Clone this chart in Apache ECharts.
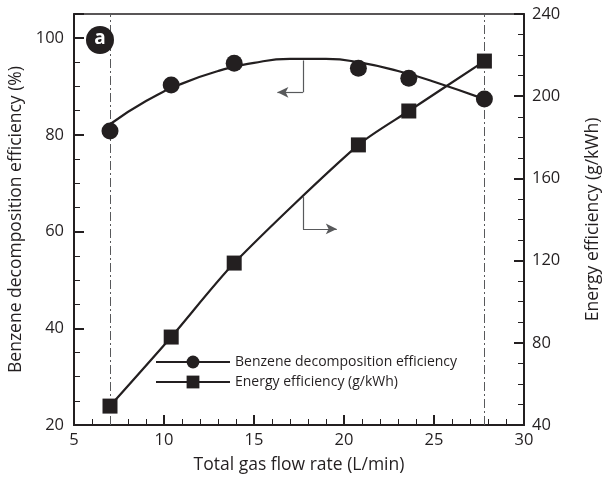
<!DOCTYPE html>
<html>
<head>
<meta charset="utf-8">
<script src="https://cdn.jsdelivr.net/npm/echarts@6/dist/echarts.min.js"></script>
<style>
  html, body { margin: 0; padding: 0; background: #fff; }
  #main { width: 602px; height: 483px; }
</style>
</head>
<body>
<div id="main"></div>
<script>
// measured points
let flowRate = [7.0, 10.4, 13.9, 20.8, 23.6, 27.8];
let benzeneEff = [80.8, 90.3, 94.8, 93.8, 91.7, 87.4];
let energyEff = [49.2, 82.8, 118.8, 176.3, 192.8, 217.1];

// fitted curve for benzene
let fitX = [7, 9, 11, 13, 15, 17, 19, 21, 23, 25, 27.8];
let fitY = [82.2, 87.0, 90.6, 93.2, 94.9, 95.7, 95.7, 94.9, 93.2, 91.0, 87.4];

let leftTicks = [20, 40, 60, 80, 100];
let rightTicks = [40, 80, 120, 160, 200, 240];

window.addEventListener('load', function () {
    let chart = echarts.init(document.getElementById('main'));
    let ink = '#231f20';
    let font = '"Open Sans", sans-serif';

    let tickStyle = {
        axisLine: { show: true, lineStyle: { color: ink, width: 2 } },
        axisTick: { show: true, inside: true, length: 10, lineStyle: { color: ink, width: 2 } },
        minorTick: { show: true, length: 6, lineStyle: { color: ink, width: 1 } },
        splitLine: { show: false },
        nameLocation: 'middle',
        nameTextStyle: { color: ink, fontSize: 17.5, fontFamily: font }
    };

    let dashDot = { color: '#58595b', width: 1, type: [9, 3, 2, 3] };
    let arrowLine = { color: '#58595b', width: 1.2, type: 'solid' };

    let option = {
        animation: false,
        grid: {
            left: 74, right: 78, top: 14, bottom: 58,
            outerBoundsMode: 'none', containLabel: false,
            show: true, borderColor: ink, borderWidth: 1.5
        },
        legend: {
            orient: 'vertical',
            left: 150,
            top: 350,
            itemWidth: 74,
            itemHeight: 16,
            itemGap: 6,
            textStyle: { color: ink, fontSize: 14, fontFamily: font },
            data: [
                { name: 'Benzene decomposition efficiency', lineStyle: { opacity: 1, width: 2, color: ink } },
                { name: 'Energy efficiency (g/kWh)' }
            ]
        },
        xAxis: Object.assign({}, tickStyle, {
            type: 'value', min: 5, max: 30, interval: 5,
            minorTick: Object.assign({}, tickStyle.minorTick, { splitNumber: 5 }),
            name: 'Total gas flow rate (L/min)', nameGap: 31,
            axisLabel: { color: ink, fontSize: 16.5, fontFamily: font, margin: 7 }
        }),
        yAxis: [
            Object.assign({}, tickStyle, {
                type: 'value', min: 20, max: 105, interval: 20,
                minorTick: Object.assign({}, tickStyle.minorTick, { splitNumber: 4 }),
                name: 'Benzene decomposition efficiency (%)', nameGap: 49,
                axisLabel: {
                    color: ink, fontSize: 16.5, fontFamily: font, margin: 10, showMaxLabel: false,
                    formatter: function (v) { return leftTicks.indexOf(v) >= 0 ? v : ''; }
                }
            }),
            Object.assign({}, tickStyle, {
                type: 'value', min: 40, max: 240, interval: 40, position: 'right',
                minorTick: Object.assign({}, tickStyle.minorTick, { splitNumber: 4 }),
                name: 'Energy efficiency (g/kWh)', nameGap: 60,
                axisLabel: {
                    color: ink, fontSize: 16.5, fontFamily: font, margin: 8,
                    formatter: function (v) { return rightTicks.indexOf(v) >= 0 ? v : ''; }
                }
            })
        ],
        graphic: [
            { type: 'circle', shape: { cx: 100, cy: 40, r: 14 }, style: { fill: ink }, z: 100 },
            { type: 'text', x: 100, y: 39, style: { text: 'a', fill: '#fff', font: 'bold 19px ' + font, textAlign: 'center', textVerticalAlign: 'middle' }, z: 101 }
        ],
        series: [
            {
                name: 'fit',
                type: 'line',
                yAxisIndex: 0,
                smooth: true,
                showSymbol: false,
                lineStyle: { color: ink, width: 2.2 },
                data: fitX.map(function (x, i) { return [x, fitY[i]]; }),
                markLine: {
                    silent: true,
                    symbol: ['none', 'none'],
                    label: { show: false },
                    lineStyle: dashDot,
                    data: [
                        { xAxis: flowRate[0] },
                        { xAxis: flowRate[flowRate.length - 1] }
                    ]
                }
            },
            {
                name: 'Benzene decomposition efficiency',
                type: 'line',
                yAxisIndex: 0,
                symbol: 'circle',
                symbolSize: 17,
                itemStyle: { color: ink },
                lineStyle: { color: ink, width: 2, opacity: 0 },
                data: flowRate.map(function (x, i) { return [x, benzeneEff[i]]; }),
                z: 5,
                markLine: {
                    silent: true,
                    label: { show: false },
                    lineStyle: arrowLine,
                    symbolSize: [8, 11],
                    data: [
                        [{ coord: [17.72, 95.4], symbol: 'none' }, { coord: [17.72, 88.8], symbol: 'none' }],
                        [{ coord: [17.72, 88.8], symbol: 'none' }, { coord: [16.3, 88.8], symbol: 'arrow' }]
                    ]
                }
            },
            {
                name: 'Energy efficiency (g/kWh)',
                type: 'line',
                yAxisIndex: 1,
                smooth: 0.25,
                symbol: 'rect',
                symbolSize: 15,
                itemStyle: { color: ink },
                lineStyle: { color: ink, width: 2.2 },
                data: flowRate.map(function (x, i) { return [x, energyEff[i]]; }),
                z: 5,
                markLine: {
                    silent: true,
                    label: { show: false },
                    lineStyle: arrowLine,
                    symbolSize: [8, 11],
                    data: [
                        [{ coord: [17.72, 150.9], symbol: 'none' }, { coord: [17.72, 135.4], symbol: 'none' }],
                        [{ coord: [17.72, 135.4], symbol: 'none' }, { coord: [19.6, 135.4], symbol: 'arrow' }]
                    ]
                }
            }
        ]
    };
    chart.setOption(option);
}, false);
</script>
</body>
</html>
